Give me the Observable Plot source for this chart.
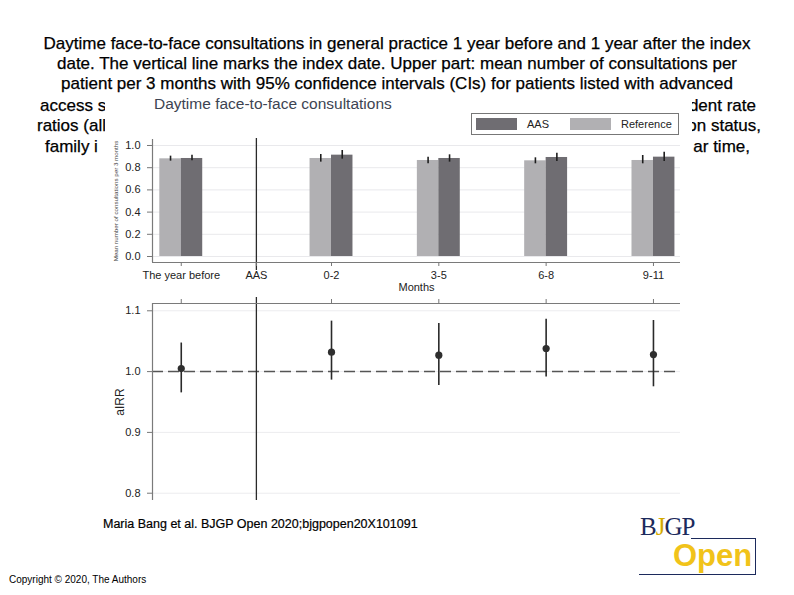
<!DOCTYPE html>
<html><head><meta charset="utf-8">
<script src="https://cdn.jsdelivr.net/npm/d3@7"></script>
<script src="https://cdn.jsdelivr.net/npm/@observablehq/plot@0.6"></script>
<style>
body{margin:0;background:#fff;font-family:"Liberation Sans",Arial,sans-serif;}
#slide{position:relative;width:794px;height:595px;overflow:hidden;background:#fff;}
.tl{position:absolute;font-size:17px;line-height:20px;color:#000;white-space:nowrap;-webkit-text-stroke:0.25px #000;}
.ctr{left:0;width:794px;text-align:center;}
#box{position:absolute;left:105px;top:94px;width:587px;height:414px;background:#fff;z-index:2;}
.abs{position:absolute;z-index:3;}
#ctitle{left:154px;top:96px;font-size:15.5px;line-height:15px;color:#3d4452;white-space:nowrap;}
#legend{left:471px;top:113px;width:206px;height:20px;border:1px solid #777;background:#fff;font-size:11px;color:#222;}
#legend .sw{position:absolute;top:4px;width:41px;height:12px;}
#legend .lb{position:absolute;top:3px;line-height:14px;}
#caption{left:103px;top:517px;font-size:12.5px;color:#000;white-space:nowrap;z-index:3;-webkit-text-stroke:0.2px #000;}
#copy{left:9px;top:574px;font-size:10px;color:#000;white-space:nowrap;}
#logo{position:absolute;left:636px;top:512px;width:122px;height:66px;}
</style></head><body><div id="slide"></div><script>
// ---- data ----
const groups = ["The year before", "0-2", "3-5", "6-8", "9-11"];
const groupSlot = [-1.4, 0, 1, 2, 3];
const indexLabel = "AAS";
const indexSlot = -0.7;
const series = ["AAS", "Reference"];
const seriesColors = ["#6f6d72", "#b1b0b3"];
const refMean = [0.880, 0.883, 0.865, 0.862, 0.865];
const refLo   = [0.859, 0.850, 0.835, 0.835, 0.835];
const refHi   = [0.904, 0.919, 0.895, 0.889, 0.910];
const aasMean = [0.883, 0.913, 0.883, 0.892, 0.895];
const aasLo   = [0.862, 0.877, 0.850, 0.856, 0.856];
const aasHi   = [0.913, 0.955, 0.916, 0.930, 0.940];
const airr    = [1.005, 1.032, 1.027, 1.038, 1.028];
const airrLo  = [0.965, 0.986, 0.977, 0.991, 0.975];
const airrHi  = [1.047, 1.083, 1.079, 1.086, 1.084];
const upperTicks = [0, 0.2, 0.4, 0.6, 0.8, 1.0];
const lowerTicks = [0.8, 0.9, 1.0, 1.1];

const titleLines = [
  "Daytime face-to-face consultations in general practice 1 year before and 1 year after the index",
  "date. The vertical line marks the index date. Upper part: mean number of consultations per",
  "patient per 3 months with 95% confidence intervals (CIs) for patients listed with advanced"
];
// the visible ends of the title lines that the chart picture covers in the reference
const titleSplit = [
  ["access s", "dent rate"],
  ["ratios (all", "on status,"],
  ["family i", "ar time,"]
];
const chartTitle = "Daytime face-to-face consultations";
const yLabelUpper = "Mean number of consultations per 3 months";
const yLabelLower = "aIRR";
const xLabel = "Months";
const caption = "Maria Bang et al. BJGP Open 2020;bjgpopen20X101091";
const copyright = "Copyright © 2020, The Authors";

// ---- build ----
const slide = document.getElementById("slide");
const el = (tag, cls, txt, css, parent) => { const e = document.createElement(tag); if (cls) e.className = cls; if (txt != null) e.textContent = txt; if (css) Object.assign(e.style, css); (parent || slide).appendChild(e); return e; };

const lineTop = [34, 54, 74];
titleLines.forEach((t, i) => el("div", "tl ctr", t, {top: lineTop[i] + "px"}));
const splitTop = [96, 116, 137];
const leftX = [40, 37, 45];
const rightX = [756, 761, 750];
titleSplit.forEach(([l, r], i) => {
  el("div", "tl", l, {top: splitTop[i] + "px", left: leftX[i] + "px"});
  el("div", "tl", r, {top: splitTop[i] + "px", right: (794 - rightX[i]) + "px"});
});
el("div", null, null).id = "box";
el("div", "abs", chartTitle).id = "ctitle";

const labelOf = new Map(groups.map((g, i) => [groupSlot[i], g]));
labelOf.set(indexSlot, indexLabel);
const barW = 0.2;
const barData = groups.flatMap((g, i) => [
  {group: g, slot: groupSlot[i], series: "Reference", side: -1, mean: refMean[i], lo: refLo[i], hi: refHi[i]},
  {group: g, slot: groupSlot[i], series: "AAS", side: 1, mean: aasMean[i], lo: aasLo[i], hi: aasHi[i]}
]);
const pointData = groups.map((g, i) => ({group: g, slot: groupSlot[i], v: airr[i], lo: airrLo[i], hi: airrHi[i]}));

const xDomain = [-1.668, 3.252];
const common = {
  width: 590, marginLeft: 49, marginRight: 13,
  style: {fontFamily: "'Liberation Sans', Arial, sans-serif", fontSize: "11px", color: "#222", background: "transparent", overflow: "visible"}
};

const upper = Plot.plot({
  ...common, height: 163, marginTop: 6, marginBottom: 34,
  x: {domain: xDomain},
  y: {domain: [-0.054, 1.054]},
  color: {domain: series, range: seriesColors},
  marks: [
    Plot.gridY({ticks: upperTicks, stroke: "#e9e9ec", strokeOpacity: 1}),
    Plot.rectY(barData, {x1: d => d.side < 0 ? d.slot - barW : d.slot, x2: d => d.side < 0 ? d.slot : d.slot + barW, y1: 0, y2: "mean", fill: "series"}),
    Plot.ruleX(barData, {x: d => d.slot + d.side * barW / 2, y1: "lo", y2: "hi", stroke: "#1e1e1e", strokeWidth: 1.6}),
    Plot.ruleX([indexSlot], {stroke: "#2a2a2a", strokeWidth: 1.3, insetTop: -1, insetBottom: -8}),
    Plot.ruleX([xDomain[0]], {stroke: "#7a7a7a", strokeWidth: 1.2}),
    Plot.ruleY([-0.054], {stroke: "#7a7a7a", strokeWidth: 1.2}),
    Plot.axisY({ticks: upperTicks, tickSize: 5, tickPadding: 7, tickFormat: d3.format(".1f"), stroke: "#777", label: null}),
    Plot.axisX({ticks: [...groupSlot, indexSlot], tickSize: 4, tickPadding: 5, tickFormat: d => labelOf.get(d), stroke: "#777", label: null}),
    Plot.text([xLabel], {frameAnchor: "bottom", dy: 28, fontSize: 11, fill: "#222"}),
    Plot.text([yLabelUpper], {frameAnchor: "left", textAnchor: "middle", dx: -36, rotate: -90, fontSize: 6.2, fill: "#444"})
  ]
});
upper.classList.add("abs");
Object.assign(upper.style, {left: "103px", top: "133px"});
slide.appendChild(upper);

const lower = Plot.plot({
  ...common, height: 213, marginTop: 11, marginBottom: 5,
  x: {domain: xDomain},
  y: {domain: [0.788, 1.112]},
  marks: [
    Plot.gridY({ticks: lowerTicks, stroke: "#ececef", strokeOpacity: 1}),
    Plot.ruleY([1], {stroke: "#555", strokeWidth: 1.5, strokeDasharray: "11,5"}),
    Plot.ruleX([indexSlot], {stroke: "#2a2a2a", strokeWidth: 1.3, insetTop: -6}),
    Plot.ruleX([xDomain[0]], {stroke: "#7a7a7a", strokeWidth: 1.2}),
    Plot.ruleY([1.112], {stroke: "#7a7a7a", strokeWidth: 1.2}),
    Plot.ruleX(pointData, {x: "slot", y1: "lo", y2: "hi", stroke: "#2a2a2a", strokeWidth: 1.6}),
    Plot.dot(pointData, {x: "slot", y: "v", r: 3.6, fill: "#2e2e2e", stroke: "none"}),
    Plot.axisY({ticks: lowerTicks, tickSize: 5, tickPadding: 7, tickFormat: d3.format(".1f"), stroke: "#777", label: null}),
    Plot.axisX({anchor: "top", ticks: groupSlot, tickSize: 5, tickFormat: () => "", stroke: "#777", label: null}),
    Plot.text([yLabelLower], {frameAnchor: "left", textAnchor: "middle", dx: -32, rotate: -90, fontSize: 12, fill: "#222"})
  ]
});
lower.classList.add("abs");
Object.assign(lower.style, {left: "103px", top: "292px"});
slide.appendChild(lower);

// legend from the colour scale
const cs = upper.scale("color");
const lg = el("div", "abs"); lg.id = "legend";
const swX = [4, 98], lbX = [55, 149];
cs.domain.forEach((s, i) => {
  const sw = document.createElement("div"); sw.className = "sw"; sw.style.left = swX[i] + "px"; sw.style.background = cs.range[i]; lg.appendChild(sw);
  const lb = document.createElement("div"); lb.className = "lb"; lb.style.left = lbX[i] + "px"; lb.textContent = s; lg.appendChild(lb);
});

el("div", "abs", caption).id = "caption";
el("div", "abs", copyright).id = "copy";

// logo
const logo = el("div", null, null); logo.id = "logo";
logo.innerHTML = `
<div style="position:absolute;left:4px;top:1px;font-family:'Liberation Serif','DejaVu Serif',serif;font-size:25px;line-height:28px;color:#1c2a5c;letter-spacing:-1px">B<span style="color:#d4a900">J</span>GP</div>
<div style="position:absolute;left:55px;top:26px;width:64px;height:36px;border-top:1.5px solid #1c2a5c;border-right:1.5px solid #1c2a5c;"></div>
<div style="position:absolute;left:3px;top:62px;width:117px;height:0;border-top:1.5px solid #1c2a5c;"></div>
<div style="position:absolute;left:37px;top:26px;font-family:'Liberation Sans',Arial,sans-serif;font-weight:bold;font-size:31px;line-height:36px;color:#f1c31a">Open</div>`;
</script></body></html>
